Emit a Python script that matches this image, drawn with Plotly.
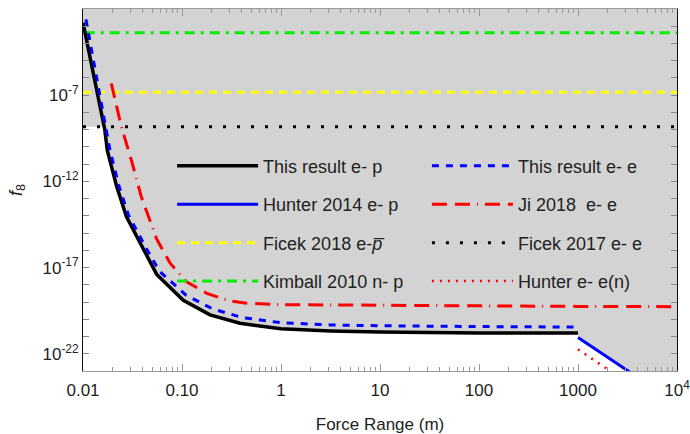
import numpy as np
import plotly.graph_objects as go

# ---------------- data ----------------
# This result e-p (black solid)
this_ep_x = [0.01, 0.0166, 0.0176, 0.0219, 0.0275, 0.0407, 0.0555, 0.103, 0.192, 0.385, 1.0, 3.16, 10.0, 100.0, 1000.0]
this_ep_y = [1.6e-3, 1.0e-9, 6.3e-11, 5.0e-13, 8.9e-15, 1.26e-16, 4.0e-18, 1.26e-19, 1.8e-20, 5.9e-21, 2.8e-21, 2.1e-21, 1.8e-21, 1.6e-21, 1.6e-21]

# This result e-e (blue dashed)
this_ee_x = [0.0107, 0.0178, 0.0186, 0.0229, 0.0288, 0.0427, 0.0589, 0.110, 0.204, 0.407, 1.0, 3.16, 10.0, 100.0, 900.0]
this_ee_y = [2.5e-3, 5.0e-10, 7.9e-11, 6.3e-13, 1.1e-14, 1.6e-16, 6.3e-18, 2.5e-19, 4.0e-20, 1.26e-20, 6.3e-21, 4.7e-21, 4.2e-21, 3.8e-21, 3.55e-21]

# Hunter 2014 e-p (blue solid)
hunter_ep_x = [1000.0, 10000.0]
hunter_ep_y = [8.9e-22, 1.26e-25]

# Ji 2018 e-e (red long dash-dot)
ji_x = [0.0193, 0.0244, 0.0308, 0.0388, 0.0555, 0.0759, 0.111, 0.178, 0.305, 0.450, 1.0, 10.0, 100.0, 1000.0, 10000.0]
ji_y = [4.9e-7, 1.5e-9, 1.7e-11, 1.3e-13, 4.5e-16, 1.8e-17, 1.5e-18, 3.2e-19, 1.15e-19, 8.5e-20, 7.1e-20, 6.3e-20, 6.0e-20, 5.6e-20, 5.4e-20]

# Ficek 2018 e-pbar (yellow dashed)
ficek18_x = [0.01, 10000.0]
ficek18_y = [1.5e-7, 1.5e-7]

# Ficek 2017 e-e (black dotted)
ficek17_x = [0.01, 10000.0]
ficek17_y = [1.5e-9, 1.5e-9]

# Kimball 2010 n-p (green dash-dot)
kimball_x = [0.0104, 10000.0]
kimball_y = [4.2e-4, 4.2e-4]

# Hunter e-e(n) (red dotted)
hunter_een_x = [1000.0, 10000.0]
hunter_een_y = [1.8e-22, 2.5e-26]

x_tickvals = [0.01, 0.1, 1, 10, 100, 1000, 10000]
x_ticktext = ["0.01", "0.10", "1", "10", "100", "1000", "10<sup>4</sup>"]
y_label_exps = [-7, -12, -17, -22]

X_RANGE = (-2, 4)
Y_RANGE = (-23, -2)

# ---------------- excluded (grey) region ----------------
lx = np.log10(this_ep_x)
ly = np.log10(this_ep_y)
lev = np.log10(ficek17_y[0])
# crossing of black curve with the Ficek 2017 level
xc = float(np.interp(-lev, -ly, lx))
hx = np.log10(hunter_ep_x)
hy = np.log10(hunter_ep_y)
xh_bot = float(np.interp(-Y_RANGE[0], -hy, hx))

bx = [X_RANGE[0], xc] + [v for v in lx if v > xc] + [hx[0], xh_bot, X_RANGE[1], X_RANGE[1], X_RANGE[0]]
by = [lev, lev] + [w for v, w in zip(lx, ly) if v > xc] + [hy[0], Y_RANGE[0], Y_RANGE[0], Y_RANGE[1], Y_RANGE[1]]
fill_x = [10 ** v for v in bx]
fill_y = [10 ** v for v in by]

FONT = "Arial"
fig = go.Figure()

fig.add_trace(go.Scatter(x=fill_x, y=fill_y, mode="lines", fill="toself",
                         fillcolor="rgb(211,211,211)", line=dict(width=0),
                         hoverinfo="skip", showlegend=False))

traces = [
    dict(x=kimball_x, y=kimball_y, name="Kimball 2010 n- p", color="#00ee00", dash="10px,6px,3px,6px", width=3, legend="legend", rank=4),
    dict(x=ficek18_x, y=ficek18_y, name="Ficek 2018 e-<i>p\u0305</i>", color="#ffff00", dash="8px,6px", width=3, legend="legend", rank=3),
    dict(x=ficek17_x, y=ficek17_y, name="Ficek 2017 e- e", color="#000000", dash="3px,11px", width=3, legend="legend2", rank=3),
    dict(x=ji_x, y=ji_y, name="Ji 2018  e- e", color="#ff0000", dash="15px,8px,15px,7px,1px,7px", width=3, legend="legend2", rank=2),
    dict(x=this_ep_x, y=this_ep_y, name="This result e- p", color="#000000", dash="solid", width=3.5, legend="legend", rank=1),
    dict(x=this_ee_x, y=this_ee_y, name="This result e- e", color="#0000ff", dash="7px,7px", width=3, legend="legend2", rank=1),
    dict(x=hunter_ep_x, y=hunter_ep_y, name="Hunter 2014 e- p", color="#0000ff", dash="solid", width=3, legend="legend", rank=2),
    dict(x=hunter_een_x, y=hunter_een_y, name="Hunter e- e(n)", color="#ff0000", dash="2px,6px", width=2.5, legend="legend2", rank=4),
]
for i, t in enumerate(traces):
    fig.add_trace(go.Scatter(x=t["x"], y=t["y"], mode="lines", name=t["name"],
                             line=dict(color=t["color"], dash=t["dash"], width=t["width"]),
                             legend=t["legend"], legendgroup="g%d" % i, legendrank=t["rank"]))

minor_x = [m * 10.0 ** k for k in range(-2, 4) for m in range(2, 10)]
y_tickvals = [10.0 ** k for k in y_label_exps]
y_ticktext = ["10<sup>%d</sup>" % k for k in y_label_exps]
minor_y = [10.0 ** k for k in range(-22, -2) if k not in y_label_exps]

leg_common = dict(yanchor="top", xanchor="left", bgcolor="rgba(0,0,0,0)",
                  font=dict(size=18, color="#222"), tracegroupgap=12, itemwidth=81,
                  traceorder="grouped")

fig.update_layout(
    width=690, height=434,
    margin=dict(l=83, r=13, t=9, b=63, autoexpand=False),
    paper_bgcolor="white", plot_bgcolor="white",
    font=dict(family=FONT, size=17, color="#222"),
    legend=dict(x=0.15, y=0.617, **leg_common),
    legend2=dict(x=0.579, y=0.617, **leg_common),
    xaxis=dict(type="log", range=list(X_RANGE), tickvals=x_tickvals, ticktext=x_ticktext,
               ticks="inside", ticklen=7, tickcolor="#999", showline=True, linecolor="#999",
               linewidth=1, mirror="ticks", showgrid=False, zeroline=False,
               ticklabelstandoff=4, ticklabeloverflow="allow", automargin=False,
               minor=dict(tickvals=minor_x, ticks="inside", ticklen=4, tickcolor="#999", showgrid=False),
               title=dict(text="Force Range (m)", font=dict(size=17), standoff=24),
               tickfont=dict(size=17)),
    yaxis=dict(type="log", range=list(Y_RANGE), tickvals=y_tickvals, ticktext=y_ticktext,
               ticks="inside", ticklen=6, tickcolor="#888", showline=True, linecolor="#111",
               linewidth=1, mirror="ticks", showgrid=False, zeroline=False, automargin=False,
               minor=dict(tickvals=minor_y, ticks="inside", ticklen=6, tickcolor="#888", showgrid=False),
               title=dict(text="<i>f</i><sub>8</sub>", font=dict(size=18), standoff=15),
               tickfont=dict(size=17)),
)

fig.write_html("out.html")
